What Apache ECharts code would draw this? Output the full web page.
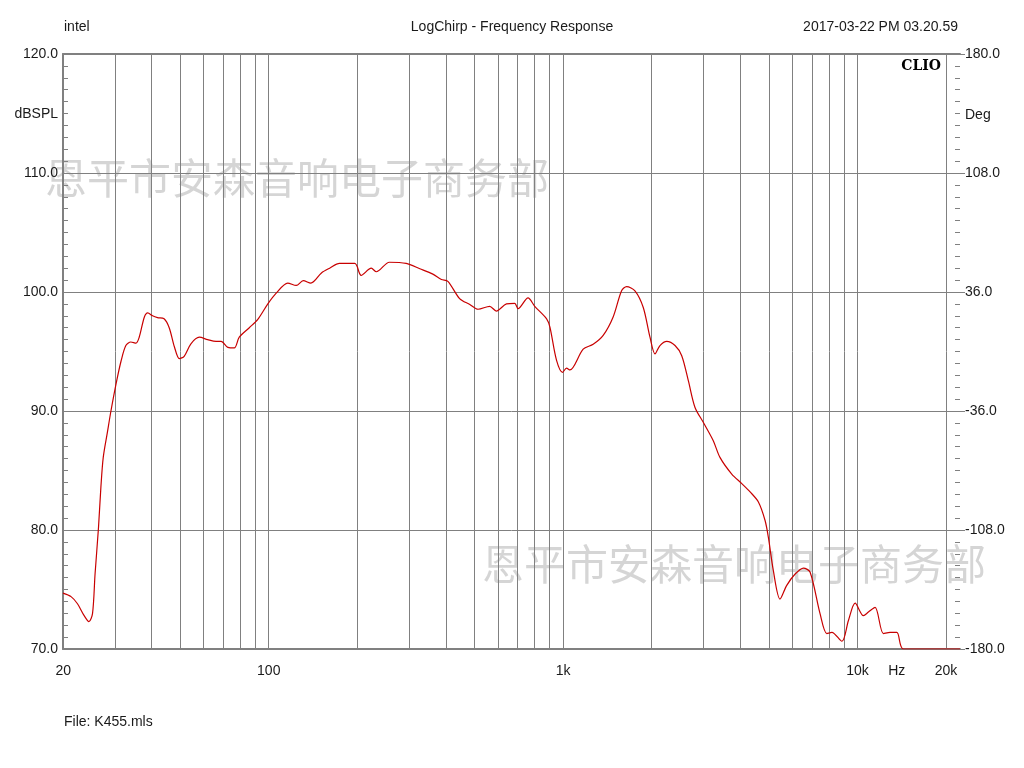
<!DOCTYPE html>
<html><head><meta charset="utf-8">
<script src="https://cdn.jsdelivr.net/npm/echarts@6/dist/echarts.min.js"></script>
<style>html,body{margin:0;padding:0;background:#fff}#c{width:1024px;height:768px}</style>
</head><body><div id="c"></div>
<script>
// Frequency response (Hz, dBSPL)
const freqHz = [20,21.3,22.4,23.6,24.5,25.2,25.7,26.4,26.9,27.4,28.3,29.1,30.3,31.5,32.7,34.0,35.4,36.3,37.8,38.8,
  40.3,41.9,44.1,45.9,47.8,49.7,51.6,54.4,58.1,62.0,66.2,68.9,72.6,76.4,79.4,85.9,91.8,99.3,106,116,
  124,131,139,151,161,174,196,206,223,232,257,293,326,361,386,406,445,482,514,563,
  593,642,685,703,760,801,879,902,950,996,1027,1055,1170,1265,1368,1479,1580,1643,1754,1872,
  1973,2052,2133,2249,2400,2529,2663,2806,2993,3237,3411,3740,4046,4318,4607,4854,4980,5177,5456,5751,
  6141,6552,6905,7466,7869,8184,8851,9318,9821,10479,10893,11475,12250,12907,13605,14330,22300];
const splDb = [74.7,74.4,73.8,72.8,72.3,73.0,76.3,80.2,83.6,86.1,88.2,90.0,92.3,94.2,95.5,95.8,95.7,96.2,97.9,98.25,
  98.0,97.85,97.75,97.0,95.4,94.4,94.6,95.65,96.2,96.0,95.85,95.85,95.35,95.3,96.2,97.0,97.7,99.0,99.9,100.75,
  100.55,100.95,100.75,101.6,102.0,102.4,102.4,101.4,102.0,101.7,102.5,102.4,101.95,101.5,101.05,100.9,99.45,98.95,98.55,98.8,
  98.4,99.0,99.05,98.6,99.5,98.8,97.75,97.05,94.25,93.25,93.6,93.45,95.2,95.6,96.35,97.9,100.1,100.45,100.1,98.7,
  96.2,94.8,95.5,95.85,95.5,94.65,92.55,90.3,89.05,87.5,86.1,84.7,83.9,83.2,82.35,80.8,79.4,76.6,74.2,75.35,
  76.3,76.8,76.45,72.95,71.3,71.4,70.65,72.4,73.85,72.8,73.1,73.5,71.3,71.4,71.4,70.0,70.0];

// Axis structure
const xMin = 20, xMax = 22300;
const gridFreqs = [30,40,50,60,70,80,90,100,200,300,400,500,600,700,800,900,
  1000,2000,3000,4000,5000,6000,7000,8000,9000,10000,20000];
const xLabelFreqs = [20.05,100,1000,10000,13600,20000];
const xLabelTexts = ['20','100','1k','10k','Hz','20k'];
const yMin = 70, yMax = 120, yStep = 10;
const leftTickLabels = ['70.0','80.0','90.0','100.0','110.0','120.0'];
const rightTickLabels = ['-180.0','-108.0','-36.0','36.0','108.0','180.0'];

const GRAY = '#808080';
const TXT = '#1a1a1a';
const FONT = '"Liberation Sans", Arial, sans-serif';

const lineData = freqHz.map((f, i) => [f, splDb[i]]);

const labelFor = f => {
  const k = xLabelFreqs.indexOf(f);
  return k < 0 ? null : xLabelTexts[k];
};
const markData = [];
const allFreqs = Array.from(new Set(gridFreqs.concat(xLabelFreqs))).sort((a, b) => a - b);
allFreqs.forEach(f => {
  const isGrid = gridFreqs.indexOf(f) >= 0;
  const txt = labelFor(f);
  const item = { xAxis: f };
  if (!isGrid) item.lineStyle = { color: 'rgba(0,0,0,0)', width: 0 };
  if (txt) {
    item.label = { show: true, formatter: txt, position: 'start', distance: 15,
      color: TXT, fontSize: 14, fontFamily: FONT };
  }
  markData.push(item);
});

const chart = echarts.init(document.getElementById('c'), null, { renderer: 'canvas' });
chart.setOption({
  animation: false,
  backgroundColor: '#fff',
  grid: { left: 63, right: 64, top: 54, bottom: 119, containLabel: false, outerBoundsMode: 'none' },
  xAxis: [
    { type: 'log', logBase: 10, min: xMin, max: xMax, position: 'bottom',
      axisLine: { show: true, lineStyle: { color: GRAY, width: 2 } },
      axisTick: { show: false }, axisLabel: { show: false }, splitLine: { show: false }, minorTick: { show: false } },
    { type: 'log', logBase: 10, min: xMin, max: xMax, position: 'top',
      axisLine: { show: true, lineStyle: { color: GRAY, width: 2 } },
      axisTick: { show: false }, axisLabel: { show: false }, splitLine: { show: false } }
  ],
  yAxis: [
    { type: 'value', position: 'left', min: yMin, max: yMax, interval: yStep,
      axisLine: { show: true, lineStyle: { color: GRAY, width: 2 } },
      axisTick: { show: true, inside: true, length: 5, lineStyle: { color: GRAY } },
      minorTick: { show: true, splitNumber: 10, length: 5, lineStyle: { color: GRAY, width: 1 } },
      axisLabel: { show: true, margin: 5, color: TXT, fontSize: 14, fontFamily: FONT,
        formatter: v => leftTickLabels[Math.round((v - yMin) / yStep)] },
      splitLine: { show: true, lineStyle: { color: GRAY, width: 1 } } },
    { type: 'value', position: 'right', min: yMin, max: yMax, interval: yStep,
      axisLine: { show: false },
      axisTick: { show: true, inside: false, length: 5, lineStyle: { color: GRAY } },
      axisLabel: { show: true, margin: 5, color: TXT, fontSize: 14, fontFamily: FONT,
        formatter: v => rightTickLabels[Math.round((v - yMin) / yStep)] },
      splitLine: { show: false } },
    { type: 'value', position: 'right', min: yMin, max: yMax, interval: yStep,
      axisLine: { show: false },
      axisTick: { show: true, inside: true, length: 5, lineStyle: { color: GRAY } },
      minorTick: { show: true, splitNumber: 10, length: 5, lineStyle: { color: GRAY, width: 1 } },
      axisLabel: { show: false }, splitLine: { show: false } }
  ],
  series: [{
    type: 'line', xAxisIndex: 0, yAxisIndex: 0, data: lineData,
    symbol: 'none', smooth: 0.3, clip: true,
    lineStyle: { color: '#c80000', width: 1.2 },
    z: 5,
    markLine: {
      silent: true, symbol: ['none', 'none'], animation: false,
      lineStyle: { color: GRAY, width: 1, type: 'solid' },
      label: { show: false },
      emphasis: { disabled: true },
      data: markData,
      z: 1
    }
  }],
  graphic: [
    { type: 'text', left: 45, top: 157, z: 0, silent: true,
      style: { text: '恩平市安森音响电子商务部', font: '42px "Noto Sans CJK SC"', fill: 'rgba(128,128,128,0.33)' } },
    { type: 'text', left: 482, top: 543, z: 0, silent: true,
      style: { text: '恩平市安森音响电子商务部', font: '42px "Noto Sans CJK SC"', fill: 'rgba(128,128,128,0.33)' } },
    { type: 'text', x: 64, y: 27, style: { text: 'intel', font: '14px ' + FONT, fill: TXT, textVerticalAlign: 'middle' } },
    { type: 'text', x: 512, y: 27, style: { text: 'LogChirp - Frequency Response', font: '14px ' + FONT, fill: TXT, textAlign: 'center', textVerticalAlign: 'middle' } },
    { type: 'text', x: 958, y: 27, style: { text: '2017-03-22 PM 03.20.59', font: '14px ' + FONT, fill: TXT, textAlign: 'right', textVerticalAlign: 'middle' } },
    { type: 'text', x: 58, y: 114, style: { text: 'dBSPL', font: '14px ' + FONT, fill: TXT, textAlign: 'right', textVerticalAlign: 'middle' } },
    { type: 'text', x: 965, y: 115, style: { text: 'Deg', font: '14px ' + FONT, fill: TXT, textAlign: 'left', textVerticalAlign: 'middle' } },
    { type: 'text', x: 941, y: 66, style: { text: 'CLIO', font: 'bold 14px "DejaVu Serif", serif', fill: '#000', textAlign: 'right', textVerticalAlign: 'middle' } },
    { type: 'text', x: 64, y: 722, style: { text: 'File: K455.mls', font: '14px ' + FONT, fill: TXT, textVerticalAlign: 'middle' } }
  ]
});
</script>
</body></html>
